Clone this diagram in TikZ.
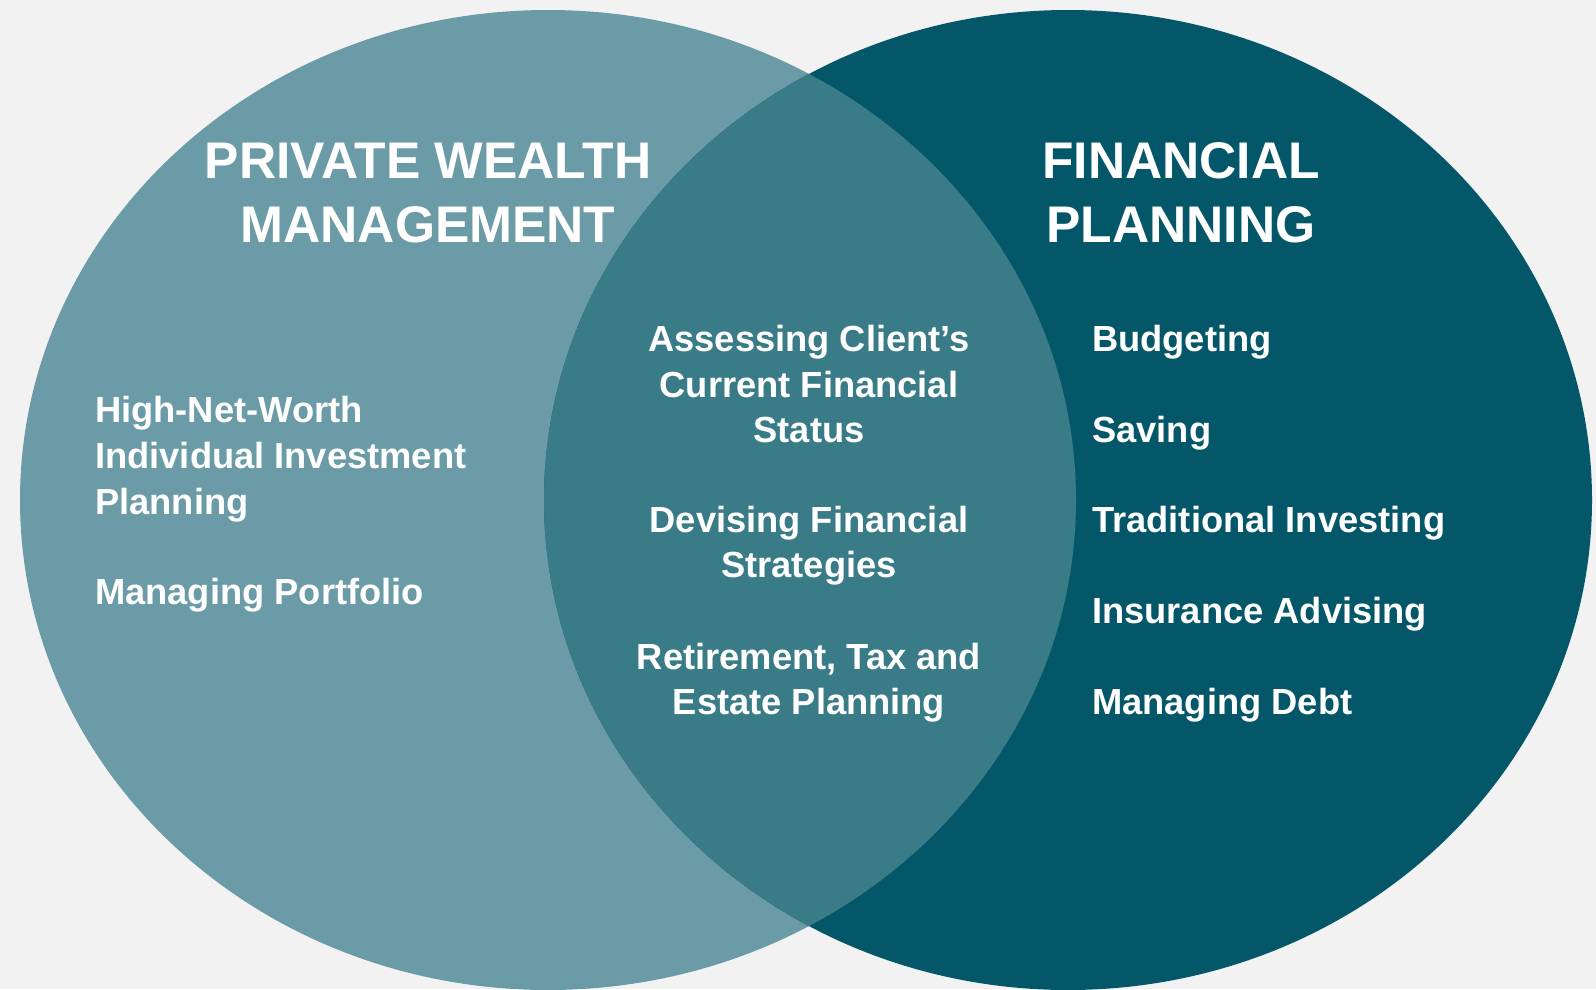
\documentclass[tikz,border=0pt]{standalone}
\usepackage{fontspec}
\setmainfont{Liberation Sans}
\usetikzlibrary{positioning}
\definecolor{bgGrey}{HTML}{F2F2F2}
\definecolor{wealthTeal}{HTML}{6A9BA6}
\definecolor{planTeal}{HTML}{045768}
\definecolor{overlapTeal}{HTML}{3A7B88}
\tikzset{
  title/.style={text=white, font=\bfseries\fontsize{51.5}{64}\selectfont, inner sep=0pt},
  item/.style={text=white, font=\bfseries\fontsize{36.3}{46}\selectfont, inner sep=0pt},
}

\begin{document}
\begin{tikzpicture}[x=1pt,y=-1pt]
    \useasboundingbox[fill=bgGrey] (0,0) rectangle (1596,989);
    % the two sets
    \fill[wealthTeal] (548,500) ellipse [x radius=528, y radius=490];
    \fill[planTeal] (1068,500) ellipse [x radius=524, y radius=490];
    \begin{scope}
      \clip (548,500) ellipse [x radius=528, y radius=490];
      \fill[overlapTeal] (1068,500) ellipse [x radius=524, y radius=490];
    \end{scope}
    % headings
    \node[title, anchor=base] (pwm1) at (428,178) {PRIVATE WEALTH};
    \node[title, anchor=base] (pwm2) at (428,242) {MANAGEMENT};
    \node[title, anchor=base] (fp1) at (1181,178) {FINANCIAL};
    \node[title, anchor=base] (fp2) at (1181,242) {PLANNING};
    % left only
    \foreach \y/\lab/\tx in {
      422/hnw1/High-Net-Worth,
      468/hnw2/Individual Investment,
      514/hnw3/Planning,
      604/port/Managing Portfolio%
    } {
      \node[item, anchor=base west] (\lab) at (95,\y) {\tx};
    }
    % shared
    \foreach \y/\lab/\tx in {
      351/assess1/Assessing Client’s,
      397/assess2/Current Financial,
      442/assess3/Status,
      532/devise1/Devising Financial,
      577/devise2/Strategies,
      669/retire1/{Retirement, Tax and},
      714/retire2/Estate Planning%
    } {
      \node[item, anchor=base] (\lab) at (809,\y) {\tx};
    }
    % right only
    \foreach \y/\lab/\tx in {
      351/budget/Budgeting,
      442/saving/Saving,
      532/invest/Traditional Investing,
      623/insure/Insurance Advising,
      714/debt/Managing Debt%
    } {
      \node[item, anchor=base west] (\lab) at (1092,\y) {\tx};
    }
  \end{tikzpicture}
\end{document}
